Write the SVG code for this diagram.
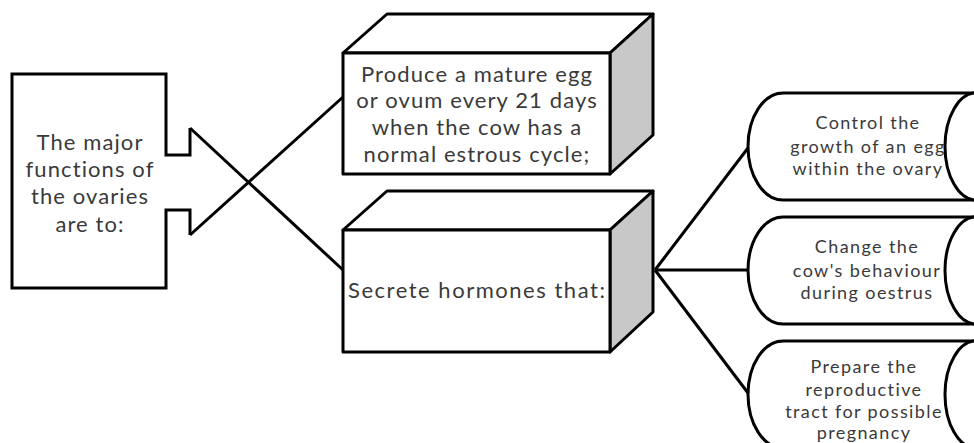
<svg xmlns="http://www.w3.org/2000/svg" width="974" height="443" viewBox="0 0 974 443">
  <style>
    .edge { fill: none; stroke: #000; stroke-width: 3; stroke-linejoin: miter; }
    .face { fill: #fff; stroke: #000; stroke-width: 3; stroke-linejoin: round; }
    .side { fill: #c8c8c8; stroke: #000; stroke-width: 3; stroke-linejoin: round; }
    .wire { fill: none; stroke: #000; stroke-width: 3; }
    text { font-family: Lato, "Open Sans", sans-serif; fill: #3a3a3a; text-anchor: middle; }
    .big { font-size: 22px; letter-spacing: 1.1px; }
    .small { font-size: 18px; letter-spacing: 1.4px; }
  </style>
  <rect width="974" height="443" fill="#fff"/>

  <!-- connectors -->
  <g id="connectors">
    <line class="wire" x1="190" y1="128" x2="343" y2="270"/>
    <line class="wire" x1="190" y1="235" x2="343" y2="97"/>
    <line class="wire" x1="655" y1="270" x2="748" y2="148"/>
    <line class="wire" x1="655" y1="270" x2="748" y2="270"/>
    <line class="wire" x1="655" y1="270" x2="748" y2="393"/>
  </g>

  <!-- block arrow: the starting statement -->
  <g id="functions">
    <path class="edge" d="M190,128 L190,155 L166,155 L166,74 L12,74 L12,288 L166,288 L166,210 L190,210 L190,235"/>
    <text class="big" x="90" y="150">The major</text>
    <text class="big" x="90" y="177">functions of</text>
    <text class="big" x="90" y="204">the ovaries</text>
    <text class="big" x="90" y="232">are to:</text>
  </g>

  <!-- 3D box: egg production -->
  <g id="produce-egg">
    <polygon class="face" points="343,53 387,14 653,14 610,53"/>
    <polygon class="side" points="610,53 653,14 653,135 610,174"/>
    <rect class="face" x="343" y="53" width="267" height="121"/>
    <text class="big" x="477" y="82">Produce a mature egg</text>
    <text class="big" x="477" y="108">or ovum every 21 days</text>
    <text class="big" x="477" y="135">when the cow has a</text>
    <text class="big" x="477" y="162">normal estrous cycle;</text>
  </g>

  <!-- 3D box: hormone secretion -->
  <g id="secrete-hormones">
    <polygon class="face" points="343,230 387,191 653,191 610,230"/>
    <polygon class="side" points="610,230 653,191 653,312 610,352"/>
    <rect class="face" x="343" y="230" width="267" height="122"/>
    <text class="big" x="477" y="298" textLength="258">Secrete hormones  that:</text>
  </g>

  <!-- horizontal cylinders: hormone effects -->
  <g id="control-growth">
    <path class="face" d="M974,93 L783,93 A35,53.5 0 0 0 783,200 L974,200"/>
    <ellipse class="face" cx="976" cy="146.5" rx="31" ry="53.5"/>
    <text class="small" x="868" y="129">Control the</text>
    <text class="small" x="868" y="153">growth of an egg</text>
    <text class="small" x="868" y="175">within the ovary</text>
  </g>

  <g id="change-behaviour">
    <path class="face" d="M974,217 L783,217 A35,53.5 0 0 0 783,324 L974,324"/>
    <ellipse class="face" cx="976" cy="270.5" rx="31" ry="53.5"/>
    <text class="small" x="867" y="253">Change the</text>
    <text class="small" x="867" y="277">cow's behaviour</text>
    <text class="small" x="867" y="299">during oestrus</text>
  </g>

  <g id="prepare-tract">
    <path class="face" d="M974,341 L783,341 A35,53.5 0 0 0 783,448 L974,448"/>
    <ellipse class="face" cx="976" cy="394.5" rx="31" ry="53.5"/>
    <text class="small" x="864" y="373">Prepare the</text>
    <text class="small" x="864" y="396">reproductive</text>
    <text class="small" x="864" y="418">tract for possible</text>
    <text class="small" x="864" y="439">pregnancy</text>
  </g>
</svg>
